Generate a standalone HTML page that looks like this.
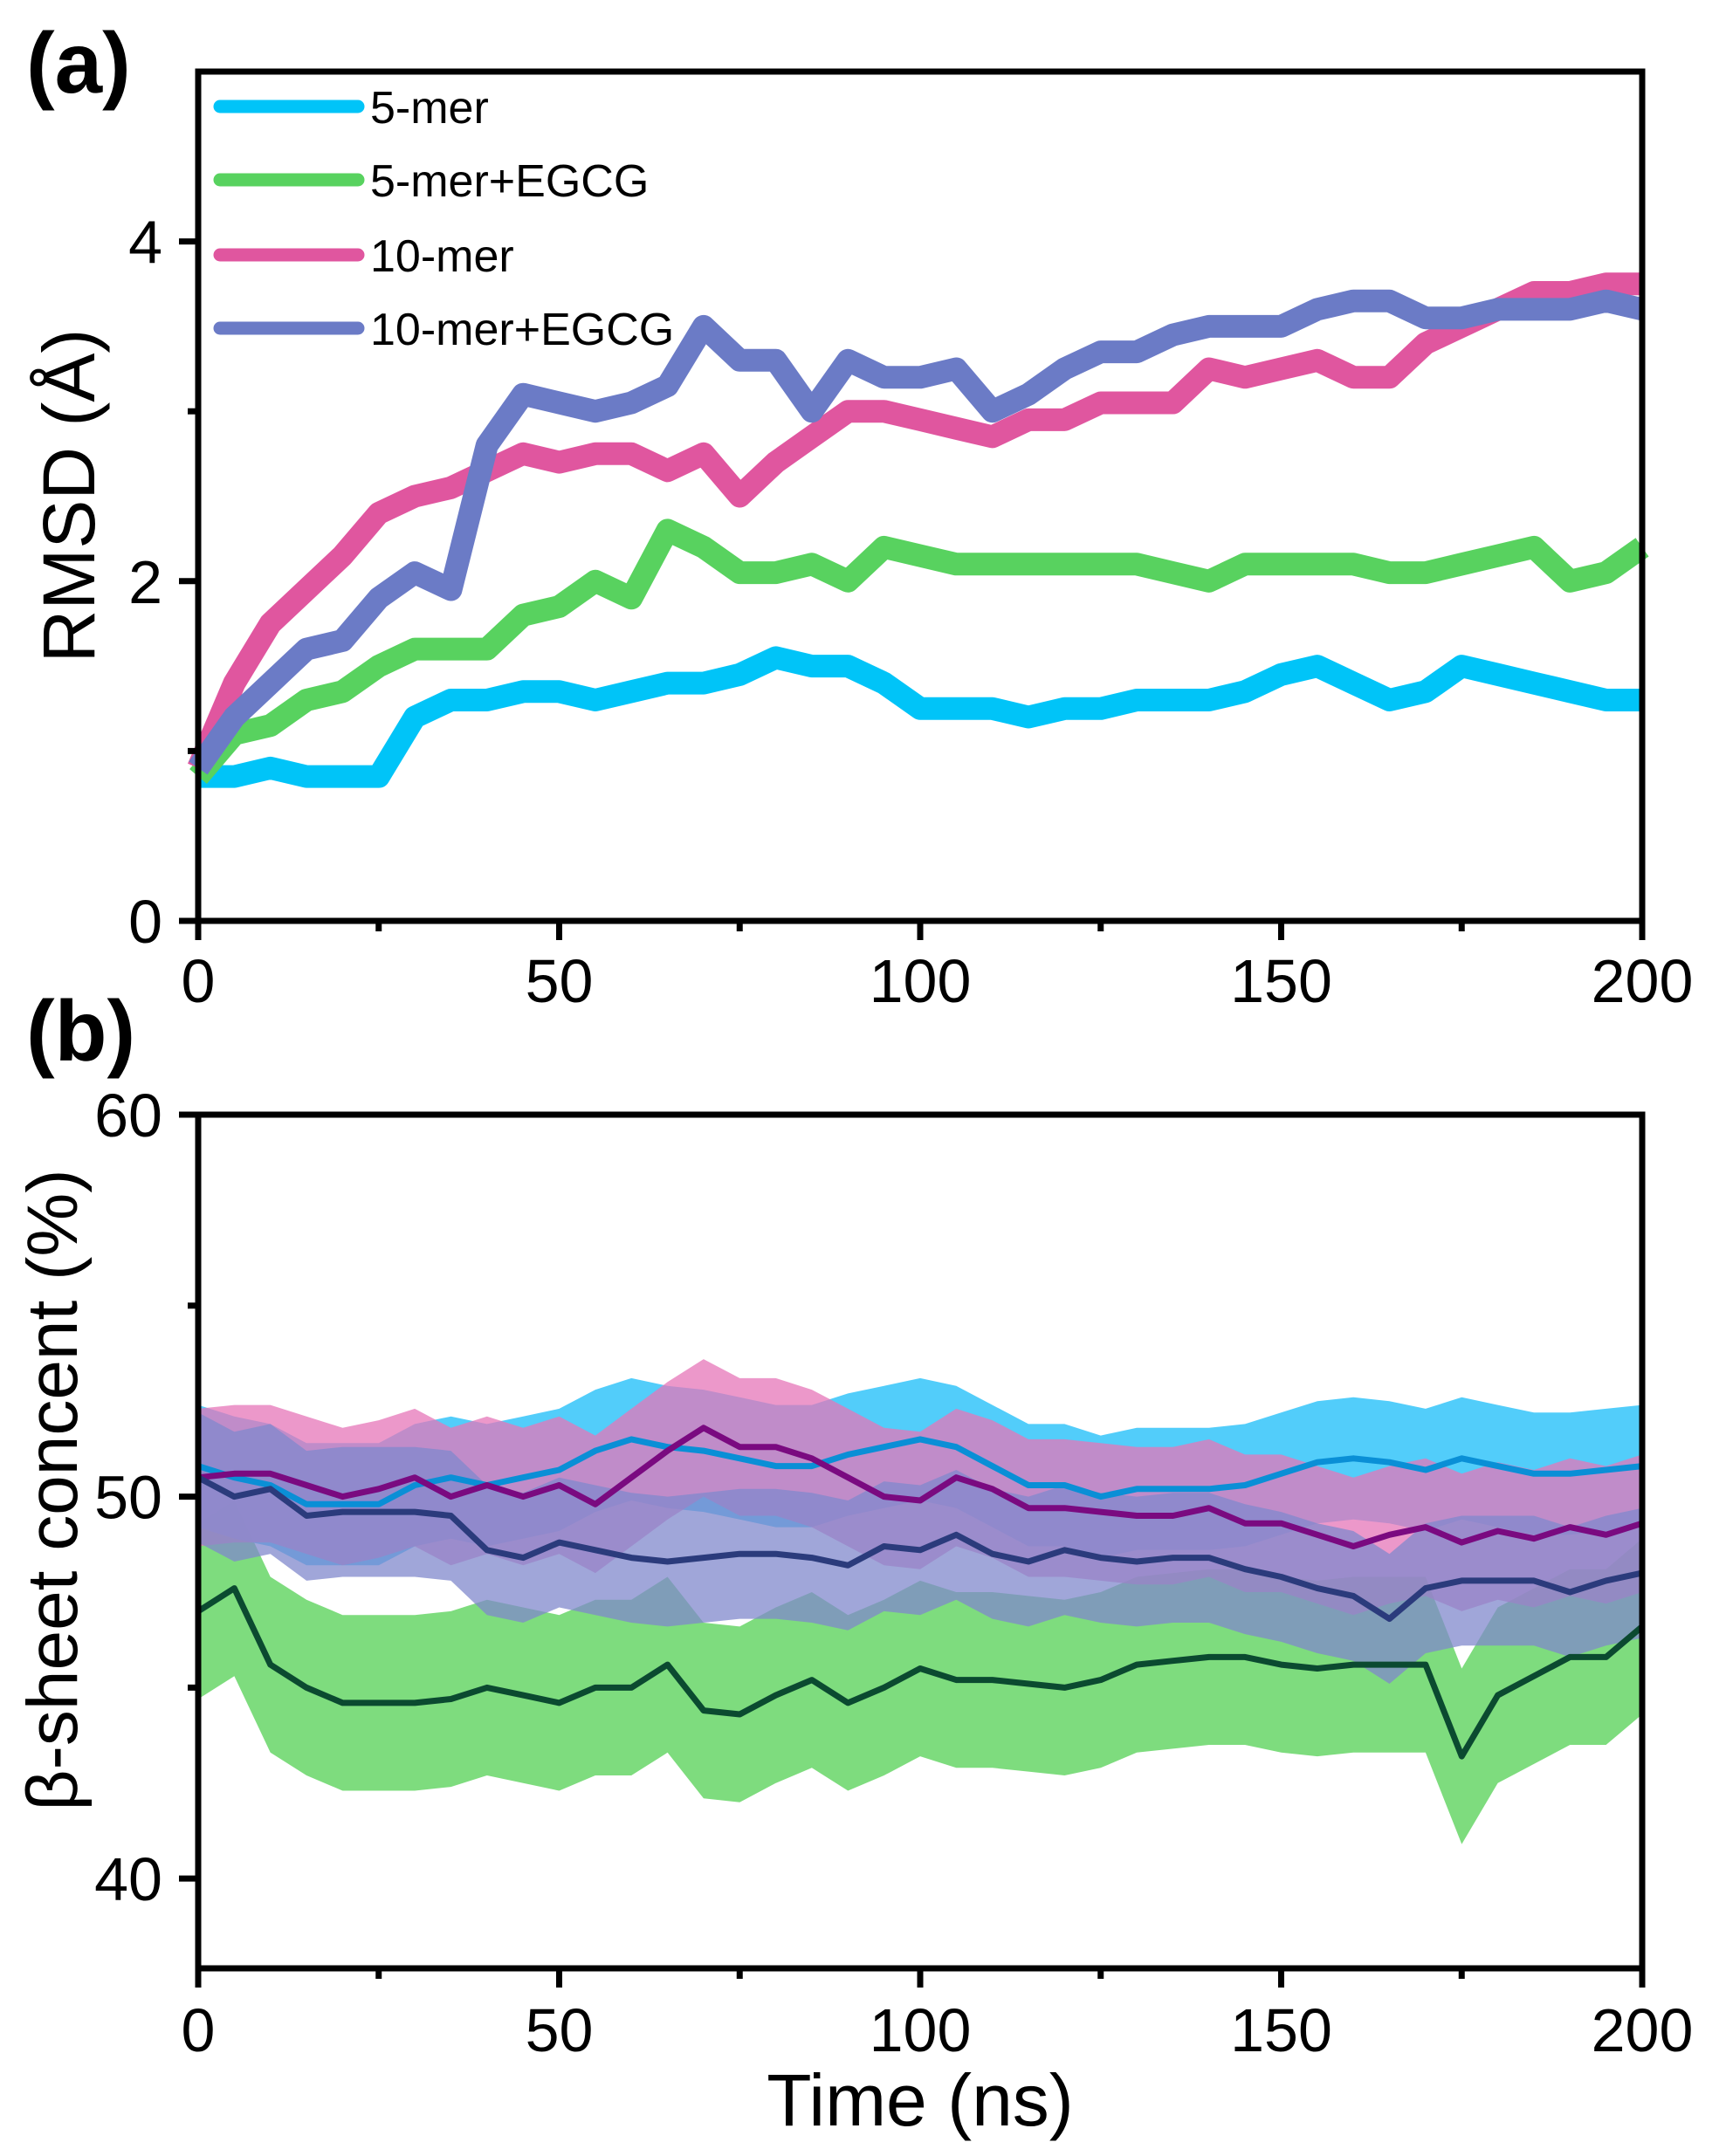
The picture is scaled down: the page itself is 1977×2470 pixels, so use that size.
<!DOCTYPE html>
<html><head><meta charset="utf-8"><style>
html,body{margin:0;padding:0;background:#fff;}
svg{display:block;font-family:"Liberation Sans",Arial,sans-serif;}
</style></head><body>
<svg id="fig" width="1977" height="2470" viewBox="0 0 1977 2470" xmlns="http://www.w3.org/2000/svg">
<rect width="1977" height="2470" fill="#fff"/>
<text x="30" y="106" font-size="98" font-weight="bold">(a)</text>
<text x="30" y="1215" font-size="98" font-weight="bold">(b)</text>
<g id="pa"></g>
<g id="pb"></g>
<text transform="translate(108,568) rotate(-90)" text-anchor="middle" font-size="84">RMSD (Å)</text>
<text transform="translate(88,1707) rotate(-90)" text-anchor="middle" font-size="82" textLength="735" lengthAdjust="spacingAndGlyphs">β-sheet concent (%)</text>
<text x="1054" y="2435" text-anchor="middle" font-size="84">Time (ns)</text>
</svg>
<script>
const times = [0,5,10,15,20,25,30,35,40,45,50,55,60,65,70,75,80,85,90,95,100,105,110,115,120,125,130,135,140,145,150,155,160,165,170,175,180,185,190,195,200];
const xTicks = [0,50,100,150,200];
const xTickLabels = ["0","50","100","150","200"];
const rmsdTicks = [0,2,4];
const rmsdTickLabels = ["0","2","4"];
const betaTicks = [40,50,60];
const betaTickLabels = ["40","50","60"];
const seriesNames = ["5-mer","5-mer+EGCG","10-mer","10-mer+EGCG"];
const rmsd5mer = [0.85,0.85,0.9,0.85,0.85,0.85,1.2,1.3,1.3,1.35,1.35,1.3,1.35,1.4,1.4,1.45,1.55,1.5,1.5,1.4,1.25,1.25,1.25,1.2,1.25,1.25,1.3,1.3,1.3,1.35,1.45,1.5,1.4,1.3,1.35,1.5,1.45,1.4,1.35,1.3,1.3];
const rmsd5merEGCG = [0.85,1.1,1.15,1.3,1.35,1.5,1.6,1.6,1.6,1.8,1.85,2.0,1.9,2.3,2.2,2.05,2.05,2.1,2.0,2.2,2.15,2.1,2.1,2.1,2.1,2.1,2.1,2.05,2.0,2.1,2.1,2.1,2.1,2.05,2.05,2.1,2.15,2.2,2.0,2.05,2.2];
const rmsd10mer = [0.9,1.4,1.75,1.95,2.15,2.4,2.5,2.55,2.65,2.75,2.7,2.75,2.75,2.65,2.75,2.5,2.7,2.85,3.0,3.0,2.95,2.9,2.85,2.95,2.95,3.05,3.05,3.05,3.25,3.2,3.25,3.3,3.2,3.2,3.4,3.5,3.6,3.7,3.7,3.75,3.75];
const rmsd10merEGCG = [0.9,1.2,1.4,1.6,1.65,1.9,2.05,1.95,2.8,3.1,3.05,3.0,3.05,3.15,3.5,3.3,3.3,3.0,3.3,3.2,3.2,3.25,3.0,3.1,3.25,3.35,3.35,3.45,3.5,3.5,3.5,3.6,3.65,3.65,3.55,3.55,3.6,3.6,3.6,3.65,3.6];
const beta5mer = [50.8,50.5,50.3,49.8,49.8,49.8,50.3,50.5,50.3,50.5,50.7,51.2,51.5,51.3,51.2,51.0,50.8,50.8,51.1,51.3,51.5,51.3,50.8,50.3,50.3,50.0,50.2,50.2,50.2,50.3,50.6,50.9,51.0,50.9,50.7,51.0,50.8,50.6,50.6,50.7,50.8];
const beta10mer = [50.5,50.6,50.6,50.3,50.0,50.2,50.5,50.0,50.3,50.0,50.3,49.8,50.5,51.2,51.8,51.3,51.3,51.0,50.5,50.0,49.9,50.5,50.2,49.7,49.7,49.6,49.5,49.5,49.7,49.3,49.3,49.0,48.7,49.0,49.2,48.8,49.1,48.9,49.2,49.0,49.3];
const beta10merEGCG = [50.5,50.0,50.2,49.5,49.6,49.6,49.6,49.5,48.6,48.4,48.8,48.6,48.4,48.3,48.4,48.5,48.5,48.4,48.2,48.7,48.6,49.0,48.5,48.3,48.6,48.4,48.3,48.4,48.4,48.1,47.9,47.6,47.4,46.8,47.6,47.8,47.8,47.8,47.5,47.8,48.0];
const beta5merEGCG = [47.0,47.6,45.6,45.0,44.6,44.6,44.6,44.7,45.0,44.8,44.6,45.0,45.0,45.6,44.4,44.3,44.8,45.2,44.6,45.0,45.5,45.2,45.2,45.1,45.0,45.2,45.6,45.7,45.8,45.8,45.6,45.5,45.6,45.6,45.6,43.2,44.8,45.3,45.8,45.8,46.6];
const betaSpread = [1.6, 2.3, 1.8, 1.7]; // 5-mer, 5-mer+EGCG, 10-mer, 10-mer+EGCG

const NS = "http://www.w3.org/2000/svg";
function mk(tag, parent, attrs){const e=document.createElementNS(NS,tag);for(const k in attrs)e.setAttribute(k,attrs[k]);parent.appendChild(e);return e;}
const L=227,R=1881;
const xs = t => L + (t-0)/(200-0)*(R-L);
const ya = v => 1055 - (v-0)/(5-0)*(1055-82);
const yb = v => 2255 - (v-37.65)/(60-37.65)*(2255-1277);

function axes(g, top, bot, yfn, ticks, labels, minor, xlabY){
  for(let i=0;i<xTicks.length;i++){
    const t=mk('line',g,{x1:xs(xTicks[i]),x2:xs(xTicks[i]),y1:bot,y2:bot+22,stroke:'#000','stroke-width':7});
    
    
    const lb=mk('text',g,{x:xs(xTicks[i]),y:xlabY,'text-anchor':'middle','font-size':70});
    lb.textContent=xTickLabels[i];
    
    
  }
  for(let i=0;i<xTicks.length-1;i++){
    const m=(xTicks[i]+xTicks[i+1])/2;
    const t=mk('line',g,{x1:xs(m),x2:xs(m),y1:bot,y2:bot+12,stroke:'#000','stroke-width':7});
    
    
  }
  for(let i=0;i<ticks.length;i++){
    const t=mk('line',g,{x1:L-22,x2:L,y1:yfn(ticks[i]),y2:yfn(ticks[i]),stroke:'#000','stroke-width':7});
    
    
    const lb=mk('text',g,{x:186,y:yfn(ticks[i])+25,'text-anchor':'end','font-size':70});
    lb.textContent=labels[i];
    
    
  }
  for(const m of minor){
    const t=mk('line',g,{x1:L-12,x2:L,y1:yfn(m),y2:yfn(m),stroke:'#000','stroke-width':7});
    
    
  }
  const f=mk('rect',g,{x:L,y:top,width:R-L,height:bot-top,fill:'none',stroke:'#000','stroke-width':7});
  
  
}
function pts(vals,yfn){return vals.map((v,i)=>xs(times[i]).toFixed(1)+','+yfn(v).toFixed(1)).join(' ');}

// Panel a
const pa=document.getElementById('pa');
const aSeries=[rmsd5mer,rmsd5merEGCG,rmsd10mer,rmsd10merEGCG];
const aColors=['#00c4f8','#58d25f','#e0569f','#6b7bc6'];
const aNames=['line-5-mer','line-5-mer-egcg','line-10-mer','line-10-mer-egcg'];
for(let s=0;s<4;s++){
  const p=mk('polyline',pa,{points:pts(aSeries[s],ya),fill:'none',stroke:aColors[s],'stroke-width':26,'stroke-linejoin':'round'});
  
  
}
axes(pa,82,1055,ya,rmsdTicks,rmsdTickLabels,[1,3],1148);
const legY=[122,206,292,376];
for(let s=0;s<4;s++){
  const l=mk('line',pa,{x1:252,x2:410,y1:legY[s],y2:legY[s],stroke:aColors[s],'stroke-width':15,'stroke-linecap':'round'});
  
  
  const t=mk('text',pa,{x:424,y:legY[s]+19,'font-size':52});
  t.textContent=seriesNames[s];
  
  
}

// Panel b
const pb=document.getElementById('pb');
const bSeries=[beta5merEGCG,beta5mer,beta10mer,beta10merEGCG];
const bSpreadIdx=[1,0,2,3];
const bBand=['#7edc7e','#3fc8fa','#e676b8','#8088cc'];
const bBandOp=[1,0.9,0.75,0.75];
const bLine=['#0b4a30','#0a8fd6','#7a0a80','#2b3b7c'];
const bNames=['5-mer-egcg','5-mer','10-mer','10-mer-egcg'];
for(let s=0;s<4;s++){
  const sp=betaSpread[bSpreadIdx[s]];
  const up=bSeries[s].map((v,i)=>xs(times[i]).toFixed(1)+','+yb(v+sp).toFixed(1));
  const lo=bSeries[s].map((v,i)=>xs(times[i]).toFixed(1)+','+yb(v-sp).toFixed(1)).reverse();
  const b=mk('polygon',pb,{points:up.concat(lo).join(' '),fill:bBand[s],'fill-opacity':bBandOp[s]});
  
  
}
for(let s=0;s<4;s++){
  const p=mk('polyline',pb,{points:pts(bSeries[s],yb),fill:'none',stroke:bLine[s],'stroke-width':7,'stroke-linejoin':'round'});
  
  
}
axes(pb,1277,2255,yb,betaTicks,betaTickLabels,[45,55],2350);
</script>
</body></html>
